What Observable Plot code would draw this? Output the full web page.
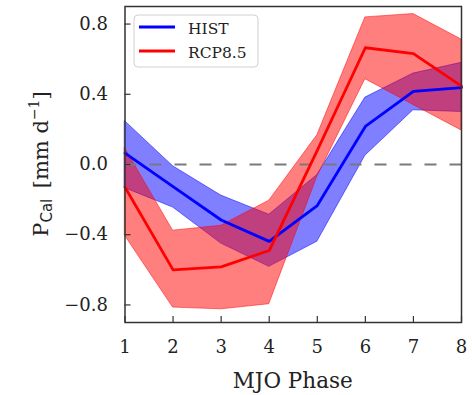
<!DOCTYPE html>
<html><head><meta charset="utf-8">
<script src="https://cdn.jsdelivr.net/npm/d3@7"></script>
<script src="https://cdn.jsdelivr.net/npm/@observablehq/plot@0.6"></script>
<style>body{margin:0;background:#fff} #chart svg{font-family:"DejaVu Serif";overflow:visible}</style>
</head><body><div id="chart"></div>
<script>
const phases = [1, 2, 3, 4, 5, 6, 7, 8];
const histMean = [0.065, -0.126, -0.316, -0.438, -0.234, 0.217, 0.417, 0.438];
const histLow  = [-0.135, -0.245, -0.45, -0.583, -0.44, 0.05, 0.309, 0.299];
const histHigh = [0.247, -0.01, -0.177, -0.286, -0.06, 0.381, 0.518, 0.579];
const rcpMean  = [-0.13, -0.6, -0.583, -0.49, 0.08, 0.665, 0.632, 0.446];
const rcpLow   = [-0.406, -0.815, -0.825, -0.796, -0.07, 0.486, 0.339, 0.194];
const rcpHigh  = [0.093, -0.377, -0.349, -0.206, 0.166, 0.838, 0.857, 0.712];
const seriesNames = ["HIST", "RCP8.5"];
const seriesColors = ["#0000ff", "#ff0000"];
const xTicks = [1, 2, 3, 4, 5, 6, 7, 8];
const yTicks = [-0.8, -0.4, 0, 0.4, 0.8];
const xLabel = "MJO Phase";

const hist = phases.map((p, i) => ({phase: p, mean: histMean[i], lo: histLow[i], hi: histHigh[i]}));
const rcp = phases.map((p, i) => ({phase: p, mean: rcpMean[i], lo: rcpLow[i], hi: rcpHigh[i]}));

const W = 472, H = 395;
const mL = 124.5, mR = 11, mT = 6, mB = 73;
const axisColor = "#333";
const hasAxisMarks = typeof Plot.axisX === "function";

const marks = [
  Plot.areaY(hist, {x: "phase", y1: "lo", y2: "hi", fill: seriesColors[0], fillOpacity: 0.5, stroke: seriesColors[0], strokeOpacity: 0.5, strokeWidth: 1}),
  Plot.areaY(rcp, {x: "phase", y1: "lo", y2: "hi", fill: seriesColors[1], fillOpacity: 0.5, stroke: seriesColors[1], strokeOpacity: 0.5, strokeWidth: 1}),
  Plot.ruleY([0], {stroke: "#7a7a7a", strokeWidth: 2, strokeDasharray: "12,13"}),
  Plot.lineY(hist, {x: "phase", y: "mean", stroke: seriesColors[0], strokeWidth: 2.8}),
  Plot.lineY(rcp, {x: "phase", y: "mean", stroke: seriesColors[1], strokeWidth: 2.8}),
  Plot.frame({stroke: axisColor, strokeWidth: 1.5})
];
if (hasAxisMarks) {
  marks.push(
    Plot.axisX(xTicks, {tickSize: -6, stroke: axisColor, strokeWidth: 1.2, tickFormat: () => "", label: null}),
    Plot.axisY(yTicks, {tickSize: -6, stroke: axisColor, strokeWidth: 1.2, tickFormat: () => "", label: null}),
    Plot.axisX(xTicks, {tickSize: 0, tickPadding: 18, fontSize: 18, color: "#222", tickFormat: d3.format("d"), label: null}),
    Plot.axisY(yTicks, {tickSize: 0, tickPadding: 17, fontSize: 18, color: "#222", tickFormat: d3.format(".1f"), label: null})
  );
}

const chart = Plot.plot({
  width: W, height: H,
  marginLeft: mL, marginRight: mR, marginTop: mT, marginBottom: mB,
  style: {fontFamily: "DejaVu Serif", background: "#fff", fontSize: "18px", color: "#222"},
  x: hasAxisMarks ? {domain: [1, 8]} : {domain: [1, 8], ticks: xTicks, tickSize: -6, tickPadding: 14, tickFormat: d3.format("d"), label: null},
  y: hasAxisMarks ? {domain: [-0.9, 0.9]} : {domain: [-0.9, 0.9], ticks: yTicks, tickSize: -6, tickPadding: 15, tickFormat: d3.format(".1f"), label: null},
  marks
});
document.getElementById("chart").appendChild(chart);

const svg = d3.select(chart);
svg.append("text")
  .attr("x", (mL + (W - mR)) / 2).attr("y", 388)
  .attr("text-anchor", "middle").attr("font-size", 21.5).attr("fill", "#222")
  .text(xLabel);
const yl = svg.append("text")
  .attr("transform", `translate(48,${(mT + (H - mB)) / 2}) rotate(-90)`)
  .attr("text-anchor", "middle").attr("font-size", 21).attr("fill", "#222");
yl.append("tspan").text("P");
yl.append("tspan").attr("dy", 4).attr("font-size", 15).attr("font-family", "DejaVu Sans").text("Cal");
yl.append("tspan").attr("dy", -4).text("\u2002[mm d");
yl.append("tspan").attr("dy", -9).attr("font-size", 14).text("\u22121");
yl.append("tspan").attr("dy", 9).text("]");

const lg = svg.append("g");
lg.append("rect").attr("x", 134).attr("y", 15).attr("width", 124).attr("height", 52).attr("rx", 4)
  .attr("fill", "#fff").attr("fill-opacity", 0.8).attr("stroke", "#d0d0d0");
seriesNames.forEach((name, i) => {
  const y = 27 + i * 24;
  lg.append("line").attr("x1", 139).attr("x2", 175).attr("y1", y).attr("y2", y)
    .attr("stroke", seriesColors[i]).attr("stroke-width", 3);
  lg.append("text").attr("x", 188).attr("y", y + 7).attr("text-anchor", "start")
    .attr("font-size", 15.5).attr("fill", "#222").text(name);
});
</script>
</body></html>
